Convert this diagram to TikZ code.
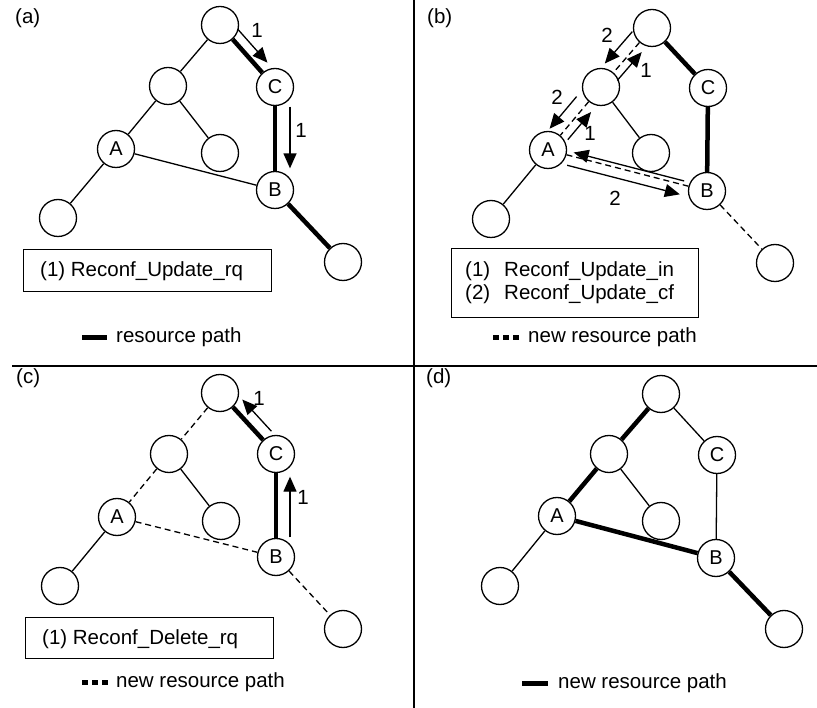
\documentclass[tikz,border=0pt]{standalone}
\usepackage{fontspec}
\setmainfont{Liberation Sans}
\usetikzlibrary{calc,arrows.meta}
\tikzset{
  nd/.style={circle,draw,line width=1.3pt,minimum size=37pt,inner sep=0pt,fill=white,font=\fontsize{20}{22}\selectfont},
  ln/.style={line width=1.3pt},
  thk/.style={line width=4.5pt},
  dsh/.style={line width=1.3pt,dash pattern=on 6pt off 4pt},
  arw/.style={line width=1.3pt,-{Triangle[length=15pt,width=13pt]}},
  lbl/.style={font=\fontsize{20.5}{22}\selectfont,inner sep=0pt},
  txt/.style={font=\fontsize{20.5}{24}\selectfont,inner sep=0pt,anchor=base west},
  box/.style={draw,line width=1.3pt,anchor=north west,inner sep=0pt},
  legthk/.style={line width=5pt},
  legdsh/.style={line width=5pt,dash pattern=on 6pt off 4pt},
  divider/.style={line width=1.5pt},
}
\newcommand\parw[6]{\draw[arw] ($(#1)!#3!(#2)!#5!#6:(#2)$) -- ($(#1)!#4!(#2)!#5!#6:(#2)$);}
\begin{document}
\begin{tikzpicture}[x=1pt,y=-1pt]
\useasboundingbox (0,0) rectangle (817,708);
% dividers
\coordinate (v1) at (414,0); \coordinate (v2) at (414,708);
\coordinate (h1) at (12,366); \coordinate (h2) at (817,366);
\draw[divider] (v1) -- (v2);
\draw[divider] (h1) -- (h2);

% ---------- (a) ----------
\node[txt] (a-lab) at (15,24) {(a)};
\node[nd] (a-top) at (220,25) {};
\node[nd] (a-l) at (168,86) {};
\node[nd] (a-C) at (275,87) {C};
\node[nd] (a-A) at (116,149) {A};
\node[nd] (a-m) at (220,153) {};
\node[nd] (a-B) at (275,190) {B};
\node[nd] (a-ll) at (58,218) {};
\node[nd] (a-lr) at (343,262) {};
\draw[ln] (a-top) -- (a-l);
\draw[thk] (a-top) -- (a-C);
\draw[ln] (a-l) -- (a-A);
\draw[ln] (a-l) -- (a-m);
\draw[ln] (a-A) -- (a-ll);
\draw[ln] (a-A) -- (a-B);
\draw[thk] (a-C) -- (a-B);
\draw[thk] (a-B) -- (a-lr);
\parw{a-top}{a-C}{0.18}{0.72}{10.5pt}{90}
\parw{a-C}{a-B}{0.19}{0.79}{15pt}{90}
\node[lbl] (a-n1) at (257,30) {1};
\node[lbl] (a-n2) at (301,130) {1};
\node[box,minimum width=248pt,minimum height=42pt] (a-box) at (23,249) {};
\node[txt] (a-t) at (40,277) {(1) Reconf\_Update\_rq};
\coordinate (a-g1) at (82,338); \coordinate (a-g2) at (107,338);
\draw[legthk] (a-g1) -- (a-g2);
\node[txt] (a-leg) at (116,343) {resource path};

% ---------- (b) ----------
\node[txt] (b-lab) at (427,24) {(b)};
\node[nd] (b-top) at (652,28) {};
\node[nd] (b-l) at (601,87) {};
\node[nd] (b-C) at (708,88) {C};
\node[nd] (b-A) at (548,150) {A};
\node[nd] (b-m) at (651,153) {};
\node[nd] (b-B) at (707,191) {B};
\node[nd] (b-ll) at (491,219) {};
\node[nd] (b-lr) at (775,263) {};
\draw[dsh] (b-top) -- (b-l);
\draw[thk] (b-top) -- (b-C);
\draw[dsh] (b-l) -- (b-A);
\draw[ln] (b-l) -- (b-m);
\draw[ln] (b-A) -- (b-ll);
\draw[dsh] (b-A) -- (b-B);
\draw[thk] (b-C) -- (b-B);
\draw[dsh] (b-B) -- (b-lr);
\parw{b-top}{b-l}{0.2}{0.74}{12.5pt}{-90}
\parw{b-l}{b-top}{0.2}{0.68}{8pt}{-90}
\parw{b-l}{b-A}{0.28}{0.79}{12.5pt}{-90}
\parw{b-A}{b-l}{0.25}{0.69}{8.5pt}{-90}
\parw{b-B}{b-A}{0.15}{0.845}{4pt}{-90}
\parw{b-A}{b-B}{0.136}{0.845}{10pt}{-90}
\node[lbl] (b-n1) at (607,35) {2};
\node[lbl] (b-n2) at (646,70) {1};
\node[lbl] (b-n3) at (557,97) {2};
\node[lbl] (b-n4) at (590,133) {1};
\node[lbl] (b-n5) at (615,198) {2};
\node[box,minimum width=247pt,minimum height=69pt] (b-box) at (451,248) {};
\node[txt] (b-t1a) at (465,277) {(1)};
\node[txt] (b-t1b) at (504,277) {Reconf\_Update\_in};
\node[txt] (b-t2a) at (465,300) {(2)};
\node[txt] (b-t2b) at (504,300) {Reconf\_Update\_cf};
\coordinate (b-g1) at (493,338); \coordinate (b-g2) at (519,338);
\draw[legdsh] (b-g1) -- (b-g2);
\node[txt] (b-leg) at (528,343) {new resource path};

% ---------- (c) ----------
\node[txt] (c-lab) at (16,384) {(c)};
\node[nd] (c-top) at (220,393) {};
\node[nd] (c-l) at (169,454) {};
\node[nd] (c-C) at (276,454) {C};
\node[nd] (c-A) at (117,517) {A};
\node[nd] (c-m) at (221,521) {};
\node[nd] (c-B) at (276,557) {B};
\node[nd] (c-ll) at (60,586) {};
\node[nd] (c-lr) at (343,629) {};
\draw[dsh] (c-top) -- (c-l);
\draw[thk] (c-top) -- (c-C);
\draw[dsh] (c-l) -- (c-A);
\draw[ln] (c-l) -- (c-m);
\draw[ln] (c-A) -- (c-ll);
\draw[dsh] (c-A) -- (c-B);
\draw[thk] (c-C) -- (c-B);
\draw[dsh] (c-B) -- (c-lr);
\parw{c-C}{c-top}{0.24}{0.76}{12pt}{-90}
\parw{c-B}{c-C}{0.19}{0.78}{14pt}{-90}
\node[lbl] (c-n1) at (259,398) {1};
\node[lbl] (c-n2) at (303,497) {1};
\node[box,minimum width=248pt,minimum height=41pt] (c-box) at (25,617) {};
\node[txt] (c-t) at (42,644) {(1) Reconf\_Delete\_rq};
\coordinate (c-g1) at (82,682); \coordinate (c-g2) at (108,682);
\draw[legdsh] (c-g1) -- (c-g2);
\node[txt] (c-leg) at (116,687) {new resource path};

% ---------- (d) ----------
\node[txt] (d-lab) at (426,384) {(d)};
\node[nd] (d-top) at (661,394) {};
\node[nd] (d-l) at (609,454) {};
\node[nd] (d-C) at (717,455) {C};
\node[nd] (d-A) at (557,516) {A};
\node[nd] (d-m) at (661,521) {};
\node[nd] (d-B) at (716,558) {B};
\node[nd] (d-ll) at (500,586) {};
\node[nd] (d-lr) at (784,629) {};
\draw[thk] (d-top) -- (d-l);
\draw[ln] (d-top) -- (d-C);
\draw[thk] (d-l) -- (d-A);
\draw[ln] (d-l) -- (d-m);
\draw[ln] (d-A) -- (d-ll);
\draw[thk] (d-A) -- (d-B);
\draw[ln] (d-C) -- (d-B);
\draw[thk] (d-B) -- (d-lr);
\coordinate (d-g1) at (522,683); \coordinate (d-g2) at (548,683);
\draw[legthk] (d-g1) -- (d-g2);
\node[txt] (d-leg) at (558,688) {new resource path};
\end{tikzpicture}
\end{document}
